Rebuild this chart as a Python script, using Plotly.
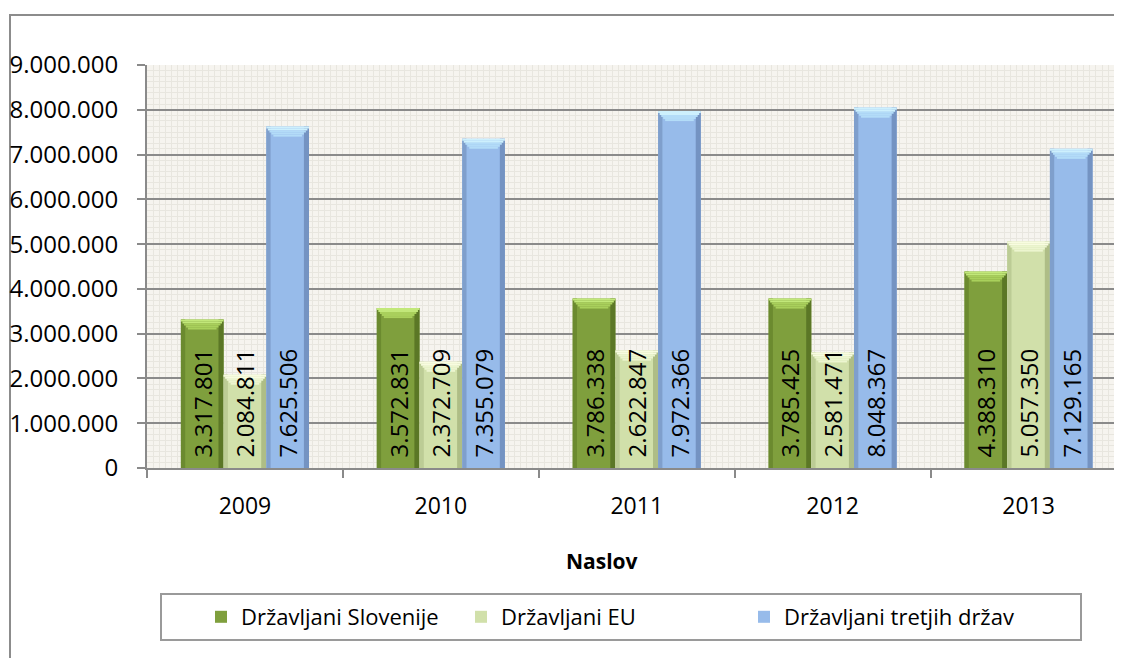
import plotly.graph_objects as go

years = ["2009", "2010", "2011", "2012", "2013"]
series_names = ["Državljani Slovenije", "Državljani EU", "Državljani tretjih držav"]
slovenija = [3317801, 3572831, 3786338, 3785425, 4388310]
eu = [2084811, 2372709, 2622847, 2581471, 5057350]
tretje = [7625506, 7355079, 7972366, 8048367, 7129165]
y_ticks = [0, 1000000, 2000000, 3000000, 4000000, 5000000, 6000000, 7000000, 8000000, 9000000]
axis_title = "Naslov"

series_values = [slovenija, eu, tretje]
body_colors = ["#7f9f3d", "#d1e0aa", "#97bbea"]
left_colors = ["#6b8a2f", "#bccc95", "#7f9fcc"]
right_colors = ["#5b7726", "#aebd86", "#7493c2"]
cap_colors = ["#c2e87a", "#f8fce0", "#cdf0fd"]
cap_inner = ["#a9d05c", "#ecf5cf", "#b3dcf8"]

FONT = "Open Sans"
W = 0.218
offsets = [-1.5 * W, -0.5 * W, 0.5 * W]
xs = list(range(len(years)))
SLICE = 45000
insets = [0.0, 0.008, 0.016, 0.026, 0.036]
LIFT = 170000

# page body has an 8px margin; plot area placed so it lands where the reference has it
FIG_W, FIG_H = 1106, 650
L, T, PH = 139, 57, 403
PW = FIG_W - L
CAT_PX = 195.9


def fmt(v):
    return f"{v:,}".replace(",", ".")


def px_x(p):  # screen x pixel -> paper fraction
    return (p - 8 - L) / PW


def px_y(p):  # screen y pixel -> paper fraction
    return (T + PH - (p - 8)) / PH


fig = go.Figure()
legend_ids = ["legend", "legend2", "legend3"]
for i, (name, vals, off) in enumerate(zip(series_names, series_values, offsets)):
    fig.add_trace(go.Bar(x=xs, y=vals, name=name, width=W, offset=off,
                         marker=dict(color=body_colors[i], line=dict(width=0)),
                         legend=legend_ids[i], hoverinfo="skip"))
    fig.add_trace(go.Bar(x=xs, y=vals, width=0.022, offset=off,
                         marker=dict(color=left_colors[i], line=dict(width=0)),
                         showlegend=False, hoverinfo="skip"))
    fig.add_trace(go.Bar(x=xs, y=vals, width=0.026, offset=off + W - 0.026,
                         marker=dict(color=right_colors[i], line=dict(width=0)),
                         showlegend=False, hoverinfo="skip"))
    for k, ins in enumerate(insets):
        col = cap_colors[i] if k < 2 else cap_inner[i]
        fig.add_trace(go.Bar(x=xs, y=[SLICE] * len(vals),
                             base=[v - (k + 1) * SLICE for v in vals],
                             width=W - 2 * ins, offset=off + ins,
                             marker=dict(color=col, line=dict(width=0)),
                             showlegend=False, hoverinfo="skip"))

for i, (vals, off) in enumerate(zip(series_values, offsets)):
    fig.add_trace(go.Bar(x=xs, y=[v - LIFT for v in vals], base=[LIFT] * len(vals),
                         width=W, offset=off, text=[fmt(v) for v in vals],
                         textposition="inside", insidetextanchor="start", textangle=-90,
                         constraintext="none",
                         textfont=dict(family=FONT, size=24, color="black"),
                         marker=dict(color="rgba(0,0,0,0)", line=dict(width=0)),
                         showlegend=False, hoverinfo="skip"))

fig.add_trace(go.Scatter(x=[0], y=[0], mode="none", xaxis="x2", showlegend=False, hoverinfo="skip"))

xr_ = [-0.5, -0.5 + PW / CAT_PX]
leg_common = dict(orientation="h", y=px_y(617), xanchor="left", yanchor="middle",
                  font=dict(family=FONT, size=22, color="black"),
                  bgcolor="rgba(0,0,0,0)", borderwidth=0)
leg_x_px = [201, 461, 744]

fig.update_layout(
    width=FIG_W, height=FIG_H,
    margin=dict(l=L, r=0, t=T, b=FIG_H - T - PH, autoexpand=False),
    paper_bgcolor="white", plot_bgcolor="#f6f4ef",
    separators=",.",
    barmode="overlay",
    font=dict(family=FONT, size=23, color="black"),
    showlegend=True,
    legend=dict(x=px_x(leg_x_px[0]), **leg_common),
    legend2=dict(x=px_x(leg_x_px[1]), **leg_common),
    legend3=dict(x=px_x(leg_x_px[2]), **leg_common),
    xaxis=dict(type="linear", range=xr_, tickvals=xs, ticktext=years, ticks="",
               showgrid=False, zeroline=False, showline=True, linecolor="#8a8a8a",
               linewidth=2, tickfont=dict(family=FONT, size=23), ticklabelstandoff=16),
    xaxis2=dict(type="linear", range=xr_, overlaying="x", anchor="y", side="bottom",
                tickvals=[i - 0.5 for i in range(len(years) + 1)], ticks="outside",
                ticklen=9, tickwidth=2, tickcolor="#8a8a8a", showticklabels=False,
                showgrid=False, zeroline=False, showline=False,
                minor=dict(dtick=1 / 32, tick0=-0.5, showgrid=True, gridcolor="#e8e6df",
                           gridwidth=1, ticks="")),
    yaxis=dict(range=[0, 9000000], tickvals=y_ticks, tickformat=",d", ticks="outside",
               ticklen=8, tickwidth=2, tickcolor="#8a8a8a", showgrid=True,
               gridcolor="#8a8a8a", gridwidth=2, zeroline=False, showline=True,
               linecolor="#8a8a8a", linewidth=2, tickfont=dict(family=FONT, size=24),
               ticklabelstandoff=14,
               minor=dict(dtick=125000, showgrid=True, gridcolor="#e8e6df", gridwidth=1, ticks="")),
    annotations=[dict(text="<b>" + axis_title + "</b>", xref="paper", yref="paper",
                      x=px_x(602), y=px_y(561), showarrow=False,
                      xanchor="center", yanchor="middle",
                      font=dict(family=FONT, size=21, color="black"))],
    shapes=[
        dict(type="rect", xref="paper", yref="paper", x0=px_x(10), x1=1.3,
             y0=-2, y1=px_y(15), line=dict(color="#8c8c8c", width=2), layer="below"),
        dict(type="rect", xref="paper", yref="paper", x0=px_x(161),
             x1=px_x(1081), y0=px_y(640), y1=px_y(594),
             line=dict(color="#9a9a9a", width=2)),
    ],
)

fig.write_html("out.html")
